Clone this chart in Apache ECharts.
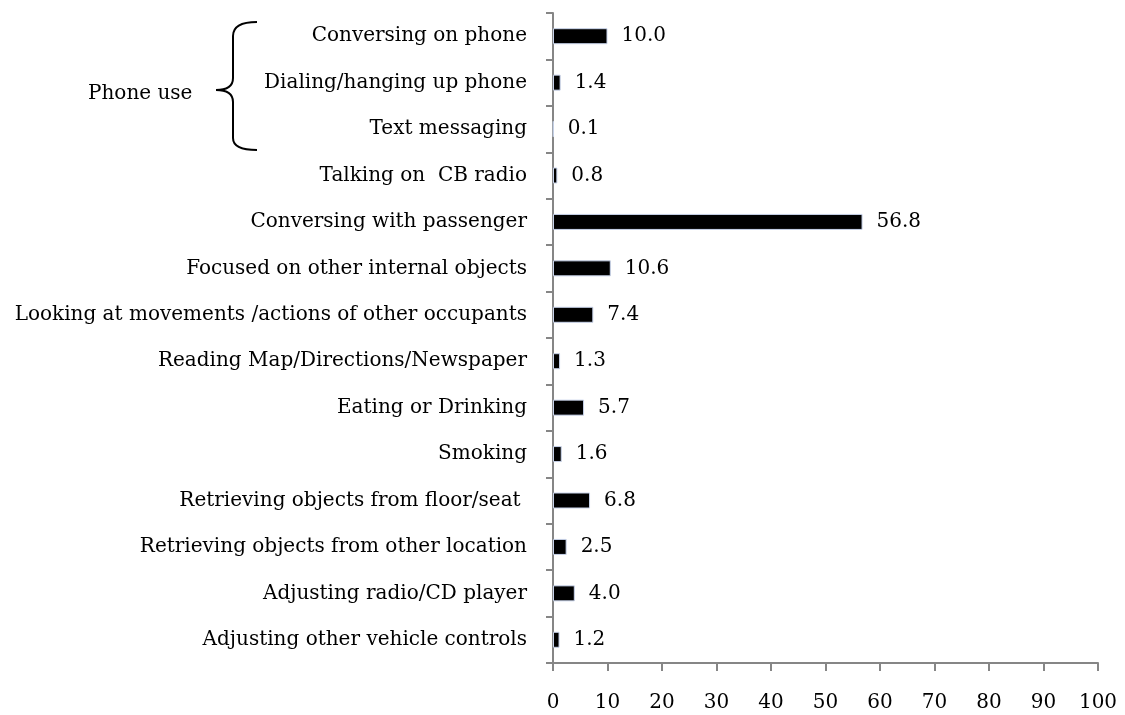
<!DOCTYPE html>
<html>
<head>
<meta charset="utf-8">
<script src="https://cdn.jsdelivr.net/npm/echarts@6/dist/echarts.min.js"></script>
<style>
  html, body { margin: 0; padding: 0; background: #fff; }
  #chart { width: 1125px; height: 715px; }
</style>
</head>
<body>
<div id="chart"></div>
<script>
// categories from top to bottom
const categories = [
  'Conversing on phone',
  'Dialing/hanging up phone',
  'Text messaging',
  'Talking on  CB radio',
  'Conversing with passenger',
  'Focused on other internal objects',
  'Looking at movements /actions of other occupants',
  'Reading Map/Directions/Newspaper',
  'Eating or Drinking',
  'Smoking',
  'Retrieving objects from floor/seat ',
  'Retrieving objects from other location',
  'Adjusting radio/CD player',
  'Adjusting other vehicle controls'
];
const percents = [10.0, 1.4, 0.1, 0.8, 56.8, 10.6, 7.4, 1.3, 5.7, 1.6, 6.8, 2.5, 4.0, 1.2];
const xTicks = [0, 100, 10]; // min, max, interval

const serif = 'DejaVu Serif';
const axisGrey = '#868686';

let mychart = echarts.init(document.getElementById('chart'));

// curly brace next to the phone-use group
const braceStyle = { fill: 'none', stroke: '#000', lineWidth: 2 };
const curve = (x1, y1, cx, cy, x2, y2) => ({
  type: 'bezierCurve',
  shape: { x1: x1, y1: y1, cpx1: cx, cpy1: cy, x2: x2, y2: y2 },
  style: braceStyle
});
const seg = (x1, y1, x2, y2) => ({
  type: 'line',
  shape: { x1: x1, y1: y1, x2: x2, y2: y2 },
  style: braceStyle
});

let option = {
  animation: false,
  textStyle: { fontFamily: serif, color: '#000' },
  grid: { left: 553, right: 27, top: 13, bottom: 52 },
  xAxis: {
    type: 'value',
    min: xTicks[0],
    max: xTicks[1],
    interval: xTicks[2],
    splitLine: { show: false },
    axisLine: { show: true, lineStyle: { color: axisGrey, width: 2 } },
    axisTick: { show: true, length: 8, lineStyle: { color: axisGrey, width: 2 } },
    axisLabel: { fontFamily: serif, fontSize: 20, color: '#000', margin: 30 }
  },
  yAxis: {
    type: 'category',
    inverse: true,
    data: categories,
    axisLine: { show: true, lineStyle: { color: axisGrey, width: 2 } },
    axisTick: { show: true, length: 7, lineStyle: { color: axisGrey, width: 2 } },
    axisLabel: { fontFamily: serif, fontSize: 20, color: '#000', margin: 26 }
  },
  series: [
    {
      type: 'bar',
      data: percents,
      barWidth: 16,
      itemStyle: { color: '#000', borderColor: '#c8d3ea', borderWidth: 1 },
      label: {
        show: true,
        position: 'right',
        distance: 14,
        fontFamily: serif,
        fontSize: 20,
        color: '#000',
        formatter: p => p.value.toFixed(1)
      }
    }
  ],
  graphic: [
    curve(257, 22, 233, 22, 233, 36),
    seg(233, 36, 233, 78),
    curve(233, 78, 233, 90, 216, 90),
    curve(216, 90, 233, 90, 233, 102),
    seg(233, 102, 233, 138),
    curve(233, 138, 233, 150, 257, 150),
    {
      type: 'text',
      x: 88,
      y: 94,
      style: { text: 'Phone use', font: '20px "DejaVu Serif"', fill: '#000', verticalAlign: 'middle' }
    }
  ]
};

mychart.setOption(option);
</script>
</body>
</html>
